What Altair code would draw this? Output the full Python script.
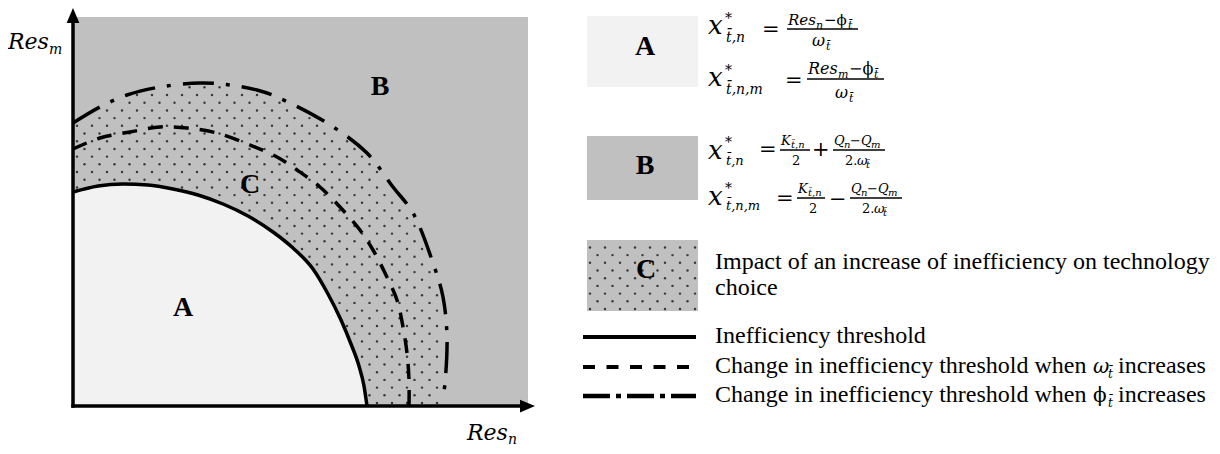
import altair as alt
import numpy as np
import pandas as pd

# ---------------- values (Res_n, Res_m units) ----------------
solid_x = [0, 25, 50, 75, 100, 125, 150, 175, 200, 220, 240, 255, 268, 278, 286, 291, 294]
solid_y = [214, 220, 222, 221, 217, 211, 202, 190, 174, 158, 137, 112, 86, 62, 40, 20, 0]

dashed_x = [0, 27, 57, 87, 114, 144, 177, 204, 224, 247, 267, 287, 300, 312, 324, 330, 334, 336, 336]
dashed_y = [257, 268, 274, 279, 278, 273, 261, 249, 236, 219, 199, 176, 156, 133, 106, 79, 53, 26, 0]

dashdot_x = [0, 27, 54, 87, 127, 157, 184, 204, 254, 294, 320, 340, 360, 370, 374, 372, 370]
dashdot_y = [283, 299, 311, 319, 323, 321, 316, 309, 283, 253, 219, 193, 143, 109, 69, 23, 8]

region_labels = ["A", "B", "C"]
legend_texts = [
    "Impact of an increase of inefficiency on technology",
    "choice",
    "Inefficiency threshold",
    "Change in inefficiency threshold when",
    "increases",
    "Change in inefficiency threshold when",
    "increases",
]

# ---------------- layout helpers ----------------
OX, OY = 73, 406          # page position of the diagram origin
PLOT_W, PLOT_H = 455, 389  # extent of the shaded region


def X(px):
    return px - OX


def Y(py):
    return OY - py


xs = alt.Scale(domain=[-65, 1139], nice=False, zero=False)
ys = alt.Scale(domain=[-40, 398], nice=False, zero=False)


def ex(f="x"):
    return alt.X(f"{f}:Q", scale=xs, axis=None)


def ey(f="y"):
    return alt.Y(f"{f}:Q", scale=ys, axis=None)


def curve_df(xv, yv):
    return pd.DataFrame({"x": xv, "y": yv, "i": range(len(xv)), "y0": 0})


solid_df = curve_df(solid_x, solid_y)
dashed_df = curve_df(dashed_x, dashed_y)
dashdot_df = curve_df(dashdot_x, dashdot_y)

# ---------------- dotted texture for region C ----------------
def polar(xv, yv):
    xv = np.asarray(xv, float)
    yv = np.asarray(yv, float)
    th = np.arctan2(yv, xv)
    r = np.hypot(xv, yv)
    o = np.argsort(th)
    return th[o], r[o]


th_in, r_in = polar(solid_x, solid_y)
th_out, r_out = polar(dashdot_x, dashdot_y)

dots = []
k = 0
yy = 3.0
while yy < PLOT_H:
    xx = 4 + (k % 2) * 7.5
    while xx < PLOT_W:
        t = np.arctan2(yy, xx)
        r = np.hypot(xx, yy)
        if np.interp(t, th_in, r_in) + 3 < r < np.interp(t, th_out, r_out) - 3:
            dots.append((xx, yy))
        xx += 15
    yy += 7.7
    k += 1

# legend C box texture
bx0, bx1, by0, by1 = X(587), X(698), Y(311), Y(240)
k = 0
yy = by0 + 2
while yy < by1 - 1:
    xx = bx0 + 3 + (k % 2) * 7.5
    while xx < bx1 - 2:
        dots.append((xx, yy))
        xx += 15
    yy += 7.7
    k += 1
dots_df = pd.DataFrame(dots, columns=["x", "y"])

# ---------------- rectangles ----------------
rect_df = pd.DataFrame({
    "x": [0, X(587), X(587), X(587)],
    "x2": [PLOT_W, X(698), X(698), X(698)],
    "y": [0, Y(87), Y(200), Y(311)],
    "y2": [PLOT_H, Y(16), Y(136), Y(240)],
    "c": ["#c0c0c0", "#f2f2f2", "#c0c0c0", "#c0c0c0"],
})

rects = alt.Chart(rect_df).mark_rect().encode(
    x=ex(), x2="x2:Q", y=ey(), y2="y2:Q", color=alt.Color("c:N", scale=None, legend=None)
)

dots_layer = alt.Chart(dots_df).mark_circle(size=6, color="#3a3a3a", opacity=1).encode(x=ex(), y=ey())

area_a = alt.Chart(solid_df).mark_area(color="#f2f2f2", interpolate="monotone").encode(
    x=ex(), y=ey(), y2="y0:Q"
)

line_solid = alt.Chart(solid_df).mark_line(color="black", strokeWidth=3.5, interpolate="monotone").encode(
    x=ex(), y=ey(), order="i:Q"
)
line_dashed = alt.Chart(dashed_df).mark_line(
    color="black", strokeWidth=3.5, strokeDash=[15, 11], interpolate="catmull-rom"
).encode(x=ex(), y=ey(), order="i:Q")
line_dashdot = alt.Chart(dashdot_df).mark_line(
    color="black", strokeWidth=3.5, strokeDash=[31, 12, 4, 12], interpolate="catmull-rom"
).encode(x=ex(), y=ey(), order="i:Q")

# ---------------- axes with arrows ----------------
axes_df = pd.DataFrame({"x": [-1.75, 0], "x2": [448, 0], "y": [0, -1.75], "y2": [0, 384]})
axes = alt.Chart(axes_df).mark_rule(color="black", strokeWidth=3.5).encode(
    x=ex(), x2="x2:Q", y=ey(), y2="y2:Q"
)
arrow_up = alt.Chart(pd.DataFrame({"x": [0], "y": [390.5]})).mark_point(
    shape="M-0.85,1L0,-1L0.85,1Z", size=225, filled=True, color="black", opacity=1, strokeWidth=0
).encode(x=ex(), y=ey())
arrow_right = alt.Chart(pd.DataFrame({"x": [454.5], "y": [0]})).mark_point(
    shape="M-1,-0.85L1,0L-1,0.85Z", size=225, filled=True, color="black", opacity=1, strokeWidth=0
).encode(x=ex(), y=ey())

# ---------------- legend lines and fraction bars ----------------
def rule_df(rows):
    return pd.DataFrame([{"x": X(a), "x2": X(b), "y": Y(c)} for a, b, c in rows])


leg_solid = alt.Chart(rule_df([(583, 696, 337)])).mark_rule(color="black", strokeWidth=4).encode(
    x=ex(), x2="x2:Q", y=ey()
)
leg_dashed = alt.Chart(rule_df([(583, 690, 367)])).mark_rule(
    color="black", strokeWidth=4, strokeDash=[12, 11.5]
).encode(x=ex(), x2="x2:Q", y=ey())
leg_dashdot = alt.Chart(rule_df([(583, 696, 396)])).mark_rule(
    color="black", strokeWidth=4.5, strokeDash=[27, 6, 5, 6]
).encode(x=ex(), x2="x2:Q", y=ey())

bars = alt.Chart(rule_df([
    (787, 858, 29), (807, 884, 79), (780, 810, 150), (833, 885, 150), (797, 825, 198), (850, 902, 198)
])).mark_rule(color="black", strokeWidth=1.5).encode(x=ex(), x2="x2:Q", y=ey())

# ---------------- texts ----------------
# region letters (bold serif), page centre positions
letter_pos = [(183, 306), (380, 85), (250, 183), (645, 45), (645, 164), (646, 268)]
letters_df = pd.DataFrame({
    "t": region_labels + region_labels,
    "x": [X(p[0]) for p in letter_pos],
    "y": [Y(p[1] + 9.5) for p in letter_pos],
})
letters = alt.Chart(letters_df).mark_text(
    font="Liberation Serif", fontWeight="bold", fontSize=28, align="center", baseline="alphabetic", color="black"
).encode(x=ex(), y=ey(), text="t:N")

body_pos = [(715, 269), (715, 295), (715, 343), (715, 373), (1118, 373), (715, 402), (1118, 402)]
body_df = pd.DataFrame({
    "t": legend_texts,
    "x": [X(p[0]) for p in body_pos],
    "y": [Y(p[1]) for p in body_pos],
})
body = alt.Chart(body_df).mark_text(
    font="Liberation Serif", fontSize=24, align="left", baseline="alphabetic", color="black"
).encode(x=ex(), y=ey(), text="t:N")

# math pieces: (text, page x, page baseline y, size, style)
MATH = [
    # axis titles
    ("Res", 8, 49, 22, "i"), ("m", 49, 54, 14, "i"),
    ("Res", 467, 440, 22, "i"), ("n", 508, 444, 14, "i"),
    # A, line 1
    ("x", 708, 34, 26, "i"), ("*", 725, 23, 14, "u"), ("t̄,n", 726, 42, 14, "i"),
    ("=", 762, 36, 21, "u"),
    ("Res", 788, 25, 15, "i"), ("n", 816, 29, 11, "i"), ("−ϕ", 824, 25, 15, "u"), ("t̄", 848, 29, 11, "i"),
    ("ω", 812, 46, 16, "i"), ("t̄", 826, 50, 11, "i"),
    # A, line 2
    ("x", 708, 86, 26, "i"), ("*", 725, 75, 14, "u"), ("t̄,n,m", 726, 94, 14, "i"),
    ("=", 785, 87, 21, "u"),
    ("Res", 808, 74, 16, "i"), ("m", 838, 78, 11, "i"), ("−ϕ", 849, 74, 16, "u"), ("t̄", 874, 78, 11, "i"),
    ("ω", 835, 98, 16, "i"), ("t̄", 849, 102, 11, "i"),
    # B, line 1
    ("x", 708, 159, 26, "i"), ("*", 725, 147, 14, "u"), ("t̄,n", 726, 165, 13, "i"),
    ("=", 759, 156, 21, "u"),
    ("K", 781, 145, 13, "i"), ("t̄,n", 791, 148, 10, "i"), ("2", 792, 165, 13, "u"),
    ("+", 812, 156, 21, "u"),
    ("Q", 834, 145, 13, "i"), ("n", 844, 148, 10, "i"), ("−", 850, 145, 13, "u"),
    ("Q", 861, 145, 13, "i"), ("m", 871, 148, 10, "i"),
    ("2.", 845, 165, 13, "u"), ("ω", 857, 165, 13, "i"), ("t̄", 866, 168, 10, "i"),
    # B, line 2
    ("x", 708, 205, 26, "i"), ("*", 725, 193, 14, "u"), ("t̄,n,m", 726, 210, 13, "i"),
    ("=", 776, 205, 21, "u"),
    ("K", 798, 193, 13, "i"), ("t̄,n", 808, 196, 10, "i"), ("2", 809, 213, 13, "u"),
    ("−", 829, 206, 21, "u"),
    ("Q", 851, 193, 13, "i"), ("n", 861, 196, 10, "i"), ("−", 867, 193, 13, "u"),
    ("Q", 878, 193, 13, "i"), ("m", 888, 196, 10, "i"),
    ("2.", 862, 213, 13, "u"), ("ω", 874, 213, 13, "i"), ("t̄", 883, 216, 10, "i"),
    # greek symbols inside legend sentences
    ("ω", 1093, 373, 20, "i"), ("t̄", 1108, 378, 12, "i"),
    ("ϕ", 1093, 402, 20, "u"), ("t̄", 1108, 407, 12, "i"),
]
math_df = pd.DataFrame({
    "t": [m[0] for m in MATH],
    "x": [X(m[1]) for m in MATH],
    "y": [Y(m[2]) for m in MATH],
    "s": [m[3] for m in MATH],
    "st": [m[4] for m in MATH],
})


def math_layer(style, font_style):
    return alt.Chart(math_df[math_df["st"] == style]).mark_text(
        font="DejaVu Serif", fontStyle=font_style, align="left", baseline="alphabetic", color="black"
    ).encode(
        x=ex(), y=ey(), text="t:N", size=alt.Size("s:Q", scale=None, legend=None)
    )


math_i = math_layer("i", "italic")
math_u = math_layer("u", "normal")

chart = alt.layer(
    rects, dots_layer, area_a, line_solid, line_dashed, line_dashdot,
    axes, arrow_up, arrow_right,
    leg_solid, leg_dashed, leg_dashdot, bars,
    letters, body, math_i, math_u,
).properties(
    width=1204, height=438, autosize=alt.AutoSizeParams(type="none"), padding=0
).configure_view(stroke=None)

chart.save("out.html", embed_options={"renderer": "svg", "actions": False})
